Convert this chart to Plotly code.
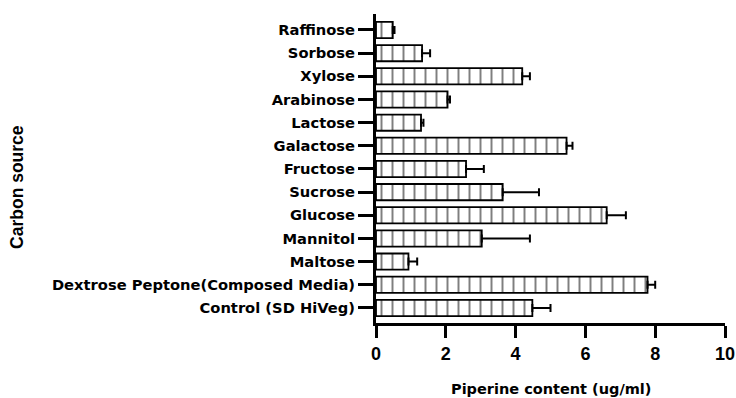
import plotly.graph_objects as go

categories = ["Control (SD HiVeg)", "Dextrose Peptone(Composed Media)", "Maltose", "Mannitol",
              "Glucose", "Sucrose", "Fructose", "Galactose", "Lactose", "Arabinose",
              "Xylose", "Sorbose", "Raffinose"]
values = [4.48, 7.78, 0.93, 3.03, 6.61, 3.63, 2.58, 5.46, 1.29, 2.05, 4.19, 1.32, 0.48]
errors = [0.52, 0.22, 0.25, 1.38, 0.55, 1.04, 0.51, 0.17, 0.07, 0.07, 0.22, 0.23, 0.05]
zeros = [0] * len(values)
x_ticks = [0, 2, 4, 6, 8, 10]

lib = "Liberation Sans, Arial, sans-serif"
dej = "DejaVu Sans, sans-serif"

fig = go.Figure(go.Bar(
    x=values, y=categories, orientation="h", width=0.7,
    marker=dict(color="white", line=dict(color="black", width=1.8),
                pattern=dict(shape="|", fgcolor="black", bgcolor="white", size=11, solidity=0.18)),
    error_x=dict(type="data", symmetric=False, array=errors, arrayminus=zeros,
                 color="black", thickness=2, width=4),
))

fig.update_layout(
    width=736, height=398, template="simple_white",
    margin=dict(l=376, r=11, t=14, b=75),
    plot_bgcolor="white", paper_bgcolor="white",
    showlegend=False,
    font=dict(family=lib, color="black"),
    xaxis=dict(range=[0, 10], tickvals=x_ticks, showline=True, linewidth=3, linecolor="black",
               ticks="outside", ticklen=12, tickwidth=3, tickcolor="black",
               tickfont=dict(size=18, family=lib, weight="bold"),
               automargin=False, showgrid=False, zeroline=False),
    yaxis=dict(categoryorder="array", categoryarray=categories, range=[-0.65, 12.69],
               showline=True, linewidth=3, linecolor="black",
               ticks="outside", ticklen=15, tickwidth=3, tickcolor="black",
               tickfont=dict(size=14.7, family=dej, weight="bold"),
               automargin=False, showgrid=False, zeroline=False),
)

fig.add_annotation(text="<b>Carbon source</b>", xref="paper", yref="paper", x=-1.029, y=0.44,
                   xanchor="center", yanchor="middle", textangle=-90, showarrow=False,
                   font=dict(size=17.5, family=lib))
fig.add_annotation(text="<b>Piperine content (ug/ml)</b>", xref="paper", yref="paper", x=0.5, y=-0.2136,
                   xanchor="center", yanchor="middle", showarrow=False,
                   font=dict(size=14.5, family=dej))

fig.write_html("out.html", config={"displayModeBar": False},
               post_script="document.body.style.margin='0';document.body.style.overflow='hidden';")
